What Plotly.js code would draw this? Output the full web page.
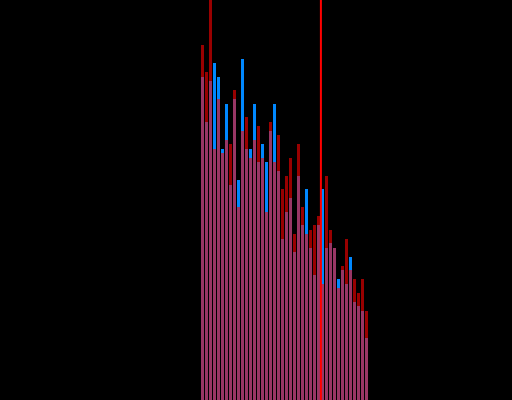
<!DOCTYPE html>
<html>
<head>
<meta charset="utf-8">
<script src="https://cdn.plot.ly/plotly-3.0.1.min.js"></script>
<style>
  html, body { margin: 0; padding: 0; background: #000; }
  #chart { width: 512px; height: 400px; }
</style>
</head>
<body>
<div id="chart"></div>
<script>
// Bin indices shared by both series
const bins = [
  0, 1, 2, 3, 4, 5, 6, 7, 8, 9,
  10, 11, 12, 13, 14, 15, 16, 17, 18, 19,
  20, 21, 22, 23, 24, 25, 26, 27, 28, 29,
  30, 31, 32, 33, 34, 35, 36, 37, 38, 39,
  40, 41
];

// Counts per bin, blue series (drawn underneath)
const blueCounts = [
  323, 278, 319, 337, 323, 251, 296, 215, 301, 220,
  341, 251, 251, 296, 238, 256, 238, 269, 296, 229,
  161, 188, 202, 148, 224, 175, 211, 152, 125, 175,
  211, 152, 157, 152, 121, 130, 116, 143, 98, 94,
  89, 62
];

// Counts per bin, red series (translucent, drawn on top)
const redCounts = [
  355, 328, 430, 251, 301, 247, 260, 256, 310, 193,
  269, 283, 242, 260, 274, 242, 188, 278, 238, 265,
  211, 224, 242, 166, 256, 193, 166, 170, 175, 184,
  116, 224, 170, 152, 112, 134, 161, 130, 121, 107,
  121, 89
];

// Position of the reference marker line, in bin units
const markerX = 29.6;

const traces = [
  {
    type: 'bar',
    x: bins,
    y: blueCounts,
    marker: { color: 'rgb(0,136,255)', line: { width: 0 } },
    hoverinfo: 'skip'
  },
  {
    type: 'bar',
    x: bins,
    y: redCounts,
    opacity: 0.6,
    marker: { color: 'rgb(255,0,0)', line: { width: 0 } },
    hoverinfo: 'skip'
  }
];

const layout = {
  width: 512,
  height: 400,
  margin: { l: 0, r: 0, t: 0, b: 0, pad: 0 },
  paper_bgcolor: '#000000',
  plot_bgcolor: '#000000',
  showlegend: false,
  barmode: 'overlay',
  bargap: 0.25,
  xaxis: { visible: false, range: [-50.625, 77.375] },
  yaxis: { visible: false, range: [0, 400] },
  shapes: [
    {
      type: 'line',
      xref: 'x', yref: 'paper',
      x0: markerX, x1: markerX, y0: 0, y1: 1,
      line: { color: 'rgb(255,0,0)', width: 2 },
      layer: 'above'
    }
  ]
};

Plotly.newPlot('chart', traces, layout, { staticPlot: true, displayModeBar: false });
</script>
</body>
</html>
